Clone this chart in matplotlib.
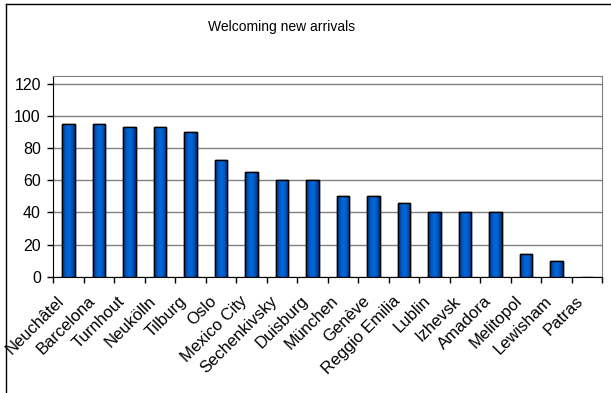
import matplotlib.pyplot as plt
import matplotlib.transforms as mtransforms
import numpy as np
from matplotlib.colors import LinearSegmentedColormap
from matplotlib.lines import Line2D

plt.rcParams['font.family'] = ['Liberation Sans', 'DejaVu Sans']

cities = ["Neuchâtel", "Barcelona", "Turnhout", "Neukölln", "Tilburg", "Oslo",
          "Mexico City", "Sechenkivsky", "Duisburg", "München", "Genève",
          "Reggio Emilia", "Lublin", "Izhevsk", "Amadora", "Melitopol",
          "Lewisham", "Patras"]
scores = [95, 95, 93, 93, 90, 73, 65, 60, 60, 50, 50, 46, 40, 40, 40, 14, 10, 0]
yticks = [0, 20, 40, 60, 80, 100, 120]

fig = plt.figure(figsize=(6.11, 3.93), dpi=100)
ax = fig.add_axes([0.0872, 0.296, 0.8986, 0.5104])

x = np.arange(len(cities))
bars = ax.bar(x, scores, width=0.42, color="#0055BB", edgecolor="black",
              linewidth=1.0, zorder=3)

# horizontal blue shading inside each bar (dark edges, lighter middle)
bluebar = LinearSegmentedColormap.from_list("bluebar", ["#002E80", "#0066D6"])
grad = np.sin(np.linspace(0, np.pi, 64))[None, :]
for b in bars:
    if b.get_height() <= 0:
        continue
    im = ax.imshow(grad, cmap=bluebar, aspect="auto",
                   extent=(b.get_x(), b.get_x() + b.get_width(), 0, b.get_height()),
                   zorder=3.5, interpolation="bilinear")
    im.set_clip_path(b)
    ax.add_patch(plt.Rectangle((b.get_x(), 0), b.get_width(), b.get_height(),
                               fill=False, edgecolor="black", linewidth=1.0, zorder=4))

ax.set_xlim(-0.5, len(cities) - 0.5)
ax.set_ylim(0, 125)
ax.set_yticks(yticks)
ax.yaxis.grid(True, color="#808080", linewidth=1.0, zorder=0)
ax.set_axisbelow(True)

ax.set_xticks(x)
ax.set_xticklabels(cities, rotation=45, ha="right", va="top",
                   rotation_mode="anchor", fontsize=12)
ax.tick_params(axis="x", which="major", length=0, pad=12)
shift = mtransforms.ScaledTranslation(-12 / 100, 0, fig.dpi_scale_trans)
for lab in ax.get_xticklabels():
    lab.set_transform(lab.get_transform() + shift)
ax.set_xticks(np.arange(len(cities) + 1) - 0.5, minor=True)
ax.tick_params(axis="x", which="minor", length=4, width=1, color="black",
               direction="out")
ax.tick_params(axis="y", length=4, width=1, direction="out", labelsize=11.5, pad=5)

for side in ("top", "right"):
    ax.spines[side].set_color("#808080")
for side in ("left", "bottom"):
    ax.spines[side].set_color("black")

# outer chart border
fig.add_artist(Line2D([6 / 611, 6 / 611], [0, 1 - 4 / 393], color="black", linewidth=1.0))
fig.add_artist(Line2D([6 / 611, 1], [1 - 4 / 393, 1 - 4 / 393], color="black", linewidth=1.0))

fig.text(282 / 611, 1 - 27 / 393, "Welcoming new arrivals", fontsize=10,
         ha="center", va="center")

fig.savefig("out.png", dpi=100)
